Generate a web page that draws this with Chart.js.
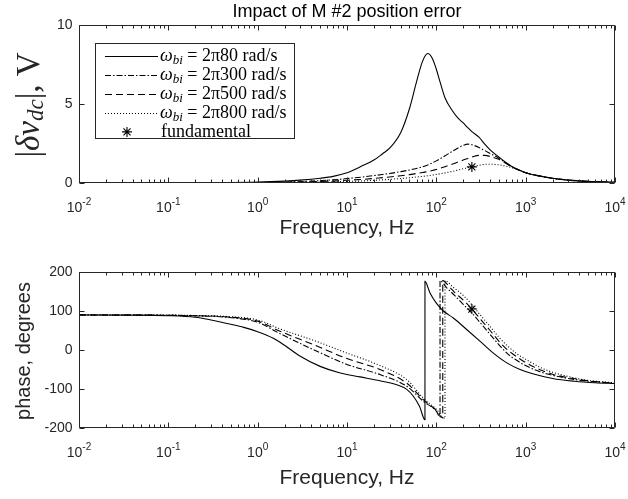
<!DOCTYPE html>
<html>
<head>
<meta charset="utf-8">
<script src="https://cdn.jsdelivr.net/npm/chart.js@4/dist/chart.umd.min.js"></script>
<style>
  html, body { margin: 0; padding: 0; background: #fff; }
  #page { position: relative; width: 628px; height: 499px; overflow: hidden; }
  .pane { position: absolute; left: 0; }
</style>
</head>
<body>
<div id="page">
  <canvas id="magChart" class="pane" style="top:0" width="628" height="250"></canvas>
  <canvas id="phaseChart" class="pane" style="top:250px" width="628" height="249"></canvas>
</div>
<script>
// ---- tick labels ----
const freqTickExponents = ['-2', '-1', '0', '1', '2', '3', '4'];
const magTickLabels = ['0', '5', '10'];
const phaseTickLabels = ['-200', '-100', '0', '100', '200'];

// ---- legend text ----
const bandwidthLabels = ['2π80 rad/s', '2π300 rad/s', '2π500 rad/s', '2π800 rad/s'];
const fundamentalLabel = 'fundamental';

// ---- magnitude |δv_dc| (V) ----
const freqMag = [0.01, 0.1, 1, 2, 3, 5, 7, 10, 15, 20, 25, 30, 40, 50, 60, 70, 80, 90,
  100, 110, 125, 150, 175, 200, 225, 250, 300, 350, 400, 500, 600, 700, 800, 1000,
  1500, 2000, 3000, 5000, 10000];
const magW80 = [0, 0.01, 0.06, 0.12, 0.18, 0.3, 0.42, 0.65, 1.1, 1.45, 1.85, 2.2, 3.2, 4.7,
  6.4, 7.7, 8.2, 7.9, 7.2, 6.4, 5.4, 4.6, 4.1, 3.8, 3.5, 3.25, 2.9, 2.45, 2.1, 1.65, 1.3,
  1.05, 0.88, 0.65, 0.42, 0.3, 0.18, 0.1, 0.04];
const magW300 = [0, 0, 0.03, 0.06, 0.09, 0.15, 0.2, 0.28, 0.38, 0.47, 0.54, 0.6, 0.72, 0.82,
  0.92, 1.02, 1.14, 1.27, 1.4, 1.53, 1.72, 2.0, 2.22, 2.38, 2.46, 2.42, 2.25, 2.05, 1.87,
  1.57, 1.27, 1.04, 0.87, 0.65, 0.42, 0.3, 0.18, 0.1, 0.04];
const magW500 = [0, 0, 0.02, 0.04, 0.06, 0.09, 0.12, 0.17, 0.23, 0.29, 0.34, 0.38, 0.46, 0.53,
  0.6, 0.66, 0.73, 0.79, 0.86, 0.93, 1.03, 1.19, 1.33, 1.45, 1.55, 1.64, 1.75, 1.75, 1.68,
  1.5, 1.25, 1.03, 0.87, 0.65, 0.42, 0.3, 0.18, 0.1, 0.04];
const magW800 = [0, 0, 0.01, 0.02, 0.03, 0.05, 0.07, 0.1, 0.13, 0.17, 0.2, 0.23, 0.28, 0.33,
  0.38, 0.42, 0.46, 0.5, 0.54, 0.58, 0.64, 0.73, 0.82, 0.9, 0.96, 1.02, 1.12, 1.18, 1.19,
  1.15, 1.07, 0.98, 0.86, 0.65, 0.42, 0.3, 0.18, 0.1, 0.04];

// ---- phase (degrees); repeated frequency = wrap from -180 to +180 ----
const phaseFreqW80 = [0.01, 0.03, 0.1, 0.2, 0.3, 0.5, 0.7, 1, 1.5, 2, 3, 5, 8.4, 14, 23.4,
  36, 46.6, 55, 65, 74.6, 74.6, 85, 100, 120, 155, 220, 310, 435, 615, 865, 1200, 2000,
  3500, 6000, 10000];
const phaseW80 = [90, 89.5, 88, 84, 77, 66, 58, 47, 30, 12, -16, -42, -59, -69, -79, -89,
  -101, -118, -145, -179, 176, 146, 120, 100, 82, 52, 22, -8, -33, -50, -61, -73, -80,
  -84, -86];
const phaseFreqW300 = [0.01, 0.1, 0.2, 0.45, 1, 1.78, 4.2, 10, 23.4, 46.6, 72, 100, 110,
  110, 130, 160, 200, 250, 315, 400, 500, 630, 800, 1000, 1500, 2000, 3000, 5000, 10000];
const phaseW300 = [90, 89, 87.5, 84, 71, 42, 1, -37, -63, -93, -132, -157, -172, 178, 160,
  140, 117, 95, 68, 40, 14, -10, -27, -40, -57, -65, -73, -80, -85];
const phaseFreqW500 = [0.01, 0.1, 0.2, 0.45, 1, 1.78, 4.2, 10, 23.4, 46.6, 72, 100, 118,
  118, 140, 160, 200, 250, 315, 400, 500, 630, 800, 1000, 1500, 2000, 3000, 5000, 10000];
const phaseW500 = [90, 89, 88, 85, 74, 48, 14, -22, -50, -85, -128, -155, -174, 178, 162,
  148, 128, 105, 78, 50, 23, 0, -18, -32, -52, -62, -71, -79, -85];
const phaseFreqW800 = [0.01, 0.1, 0.2, 0.45, 1, 1.78, 4.2, 10, 23.4, 46.6, 72, 100, 125,
  125, 150, 200, 250, 315, 400, 500, 630, 800, 1000, 1500, 2000, 3000, 5000, 10000];
const phaseW800 = [90, 89.5, 88.5, 86, 77, 54, 25, -8, -40, -76, -124, -152, -175, 178, 163,
  140, 116, 88, 60, 33, 10, -10, -24, -46, -57, -68, -78, -84];

// ---- fundamental operating point ----
const fundamentalFreq = [250];
const fundamentalMag = [1.02];
const fundamentalPhase = [105];

// ---- drawing ----
const INK = '#262626';
const SANS = '"Liberation Sans", Arial, Helvetica, sans-serif';
const SERIF = '"Liberation Serif", "Times New Roman", serif';
const lineStyles = [[], [6, 2, 1.5, 2], [7, 4], [1, 2]];

function toPoints(xs, ys) {
  return xs.map((x, i) => ({ x: x, y: ys[i] }));
}

function curveSets(series) {
  return series.map((s, i) => ({
    label: bandwidthLabels[i],
    data: toPoints(s[0], s[1]),
    borderColor: '#000',
    borderWidth: 1.1,
    borderDash: lineStyles[i],
    pointRadius: 0,
    fill: false,
    cubicInterpolationMode: 'monotone'
  }));
}

function starSet(xs, ys) {
  return {
    label: fundamentalLabel,
    data: toPoints(xs, ys),
    showLine: false,
    pointStyle: 'star',
    pointRadius: 5,
    borderColor: '#000',
    backgroundColor: '#000',
    pointBorderWidth: 1.1
  };
}

const crisp = v => Math.round(v) + 0.5;

// box, inward ticks and tick labels, like a boxed engineering plot
const axesFrame = {
  id: 'axesFrame',
  afterDatasetsDraw(chart, args, o) {
    const { ctx, chartArea: a } = chart;
    const xs = chart.scales.x, ys = chart.scales.y;
    const L = crisp(a.left), R = crisp(a.right - 1), T = crisp(a.top), B = crisp(a.bottom - 1);
    ctx.save();
    ctx.strokeStyle = INK;
    ctx.lineWidth = 1;
    ctx.beginPath();
    ctx.rect(L, T, R - L, B - T);
    for (let d = -2; d <= 4; d++) {
      const p = crisp(xs.getPixelForValue(Math.pow(10, d)));
      ctx.moveTo(p, B); ctx.lineTo(p, B - 5);
      ctx.moveTo(p, T); ctx.lineTo(p, T + 5);
      if (d < 4) {
        for (let m = 2; m <= 9; m++) {
          const q = crisp(xs.getPixelForValue(m * Math.pow(10, d)));
          ctx.moveTo(q, B); ctx.lineTo(q, B - 3);
          ctx.moveTo(q, T); ctx.lineTo(q, T + 3);
        }
      }
    }
    o.yTicks.forEach(t => {
      const p = crisp(ys.getPixelForValue(+t));
      ctx.moveTo(L, p); ctx.lineTo(L + 5, p);
      ctx.moveTo(R, p); ctx.lineTo(R - 5, p);
    });
    ctx.stroke();

    ctx.fillStyle = INK;
    ctx.font = '14px ' + SANS;
    ctx.textAlign = 'right';
    ctx.textBaseline = 'middle';
    o.yTicks.forEach(t => ctx.fillText(t, L - 7, ys.getPixelForValue(+t)));

    ctx.textAlign = 'left';
    ctx.textBaseline = 'alphabetic';
    freqTickExponents.forEach(e => {
      const p = xs.getPixelForValue(Math.pow(10, +e));
      ctx.font = '14px ' + SANS;
      const w1 = ctx.measureText('10').width;
      ctx.font = '10px ' + SANS;
      const w2 = ctx.measureText(e).width;
      const x0 = p - (w1 + w2) / 2;
      ctx.font = '14px ' + SANS;
      ctx.fillText('10', x0, B + 29);
      ctx.font = '10px ' + SANS;
      ctx.fillText(e, x0 + w1, B + 22);
    });

    ctx.font = '21px ' + SANS;
    ctx.textAlign = 'center';
    ctx.fillText('Frequency, Hz', (a.left + a.right) / 2, o.xTitleY);
    ctx.restore();
  }
};

// title, y label with subscript and the legend of the magnitude pane
const magDecor = {
  id: 'magDecor',
  afterDraw(chart) {
    const { ctx, chartArea: a } = chart;
    ctx.save();
    ctx.fillStyle = '#000';
    ctx.font = '18px ' + SANS;
    ctx.textAlign = 'center';
    ctx.textBaseline = 'alphabetic';
    ctx.fillText('Impact of M #2 position error', (a.left + a.right) / 2, 17);

    // |δv_dc|, V
    const S = 33;
    const pieces = [
      { t: '|', f: S + 'px ' + SERIF, dy: 0 },
      { t: 'δv', f: 'italic ' + S + 'px ' + SERIF, dy: 0 },
      { t: 'dc', f: 'italic ' + Math.round(S * 0.7) + 'px ' + SERIF, dy: S * 0.2 },
      { t: '|, V', f: S + 'px ' + SERIF, dy: 0 }
    ];
    let total = 0;
    pieces.forEach(p => { ctx.font = p.f; p.w = ctx.measureText(p.t).width; total += p.w; });
    ctx.translate(30, 105);
    ctx.rotate(-Math.PI / 2);
    ctx.textAlign = 'left';
    ctx.textBaseline = 'middle';
    ctx.fillStyle = INK;
    let x = -total / 2;
    pieces.forEach(p => { ctx.font = p.f; ctx.fillText(p.t, x, p.dy); x += p.w; });
    ctx.setTransform(1, 0, 0, 1, 0, 0);

    // legend
    const bx = 95.5, by = 43.5, bw = 199, bh = 95;
    ctx.fillStyle = '#fff';
    ctx.fillRect(bx, by, bw, bh);
    ctx.strokeStyle = INK;
    ctx.lineWidth = 1;
    ctx.strokeRect(bx, by, bw, bh);
    const rowY = i => 55.5 + i * 19.1;
    const ds = chart.data.datasets;
    ctx.fillStyle = '#000';
    ctx.textBaseline = 'alphabetic';
    const LF = 18;
    for (let i = 0; i < 4; i++) {
      const y = Math.round(rowY(i)) + 0.5;
      ctx.strokeStyle = '#000';
      ctx.lineWidth = ds[i].borderWidth;
      ctx.setLineDash(ds[i].borderDash);
      ctx.beginPath();
      ctx.moveTo(105, y); ctx.lineTo(158, y);
      ctx.stroke();
      ctx.setLineDash([]);
      let tx = 160;
      const base = rowY(i) + 5;
      ctx.font = 'italic ' + LF + 'px ' + SERIF;
      ctx.fillText('ω', tx, base);
      tx += ctx.measureText('ω').width;
      ctx.font = 'italic ' + Math.round(LF * 0.7) + 'px ' + SERIF;
      ctx.fillText('bi', tx, base + 3);
      tx += ctx.measureText('bi').width;
      ctx.font = LF + 'px ' + SERIF;
      ctx.fillText(' = ' + ds[i].label, tx, base);
    }
    const sy = rowY(4);
    ctx.strokeStyle = '#000';
    ctx.lineWidth = 1.1;
    const r = 5;
    ctx.beginPath();
    ctx.moveTo(127 - r, sy); ctx.lineTo(127 + r, sy);
    ctx.moveTo(127, sy - r); ctx.lineTo(127, sy + r);
    const k = r * Math.SQRT1_2;
    ctx.moveTo(127 - k, sy - k); ctx.lineTo(127 + k, sy + k);
    ctx.moveTo(127 - k, sy + k); ctx.lineTo(127 + k, sy - k);
    ctx.stroke();
    ctx.font = LF + 'px ' + SERIF;
    ctx.fillText(ds[4].label, 161, sy + 5);
    ctx.restore();
  }
};

const phaseDecor = {
  id: 'phaseDecor',
  afterDraw(chart) {
    const { ctx } = chart;
    ctx.save();
    ctx.translate(24, 101);
    ctx.rotate(-Math.PI / 2);
    ctx.fillStyle = INK;
    ctx.font = '20px ' + SANS;
    ctx.textAlign = 'center';
    ctx.textBaseline = 'middle';
    ctx.fillText('phase, degrees', 0, 0);
    ctx.restore();
  }
};

function makeChart(id, datasets, yMin, yMax, padTop, xHeight, yTicks, xTitleY, decor) {
  return new Chart(document.getElementById(id), {
    type: 'line',
    data: { datasets: datasets },
    options: {
      responsive: false,
      animation: false,
      devicePixelRatio: 1,
      layout: { padding: { left: 0, right: 13, top: padTop, bottom: 0 } },
      scales: {
        x: {
          type: 'logarithmic', min: 0.01, max: 10000,
          grid: { display: false, drawTicks: false },
          border: { display: false },
          ticks: { display: false },
          afterFit(s) { s.height = xHeight; }
        },
        y: {
          type: 'linear', min: yMin, max: yMax,
          grid: { display: false, drawTicks: false },
          border: { display: false },
          ticks: { display: false },
          afterFit(s) { s.width = 79; }
        }
      },
      plugins: {
        legend: { display: false },
        tooltip: { enabled: false },
        axesFrame: { yTicks: yTicks, xTitleY: xTitleY }
      }
    },
    plugins: [axesFrame, decor]
  });
}

makeChart('magChart',
  curveSets([[freqMag, magW80], [freqMag, magW300], [freqMag, magW500], [freqMag, magW800]])
    .concat([starSet(fundamentalFreq, fundamentalMag)]),
  0, 10, 25, 67, magTickLabels, 234, magDecor);

makeChart('phaseChart',
  curveSets([[phaseFreqW80, phaseW80], [phaseFreqW300, phaseW300],
             [phaseFreqW500, phaseW500], [phaseFreqW800, phaseW800]])
    .concat([starSet(fundamentalFreq, fundamentalPhase)]),
  -200, 200, 22, 71, phaseTickLabels, 234, phaseDecor);
</script>
</body>
</html>
